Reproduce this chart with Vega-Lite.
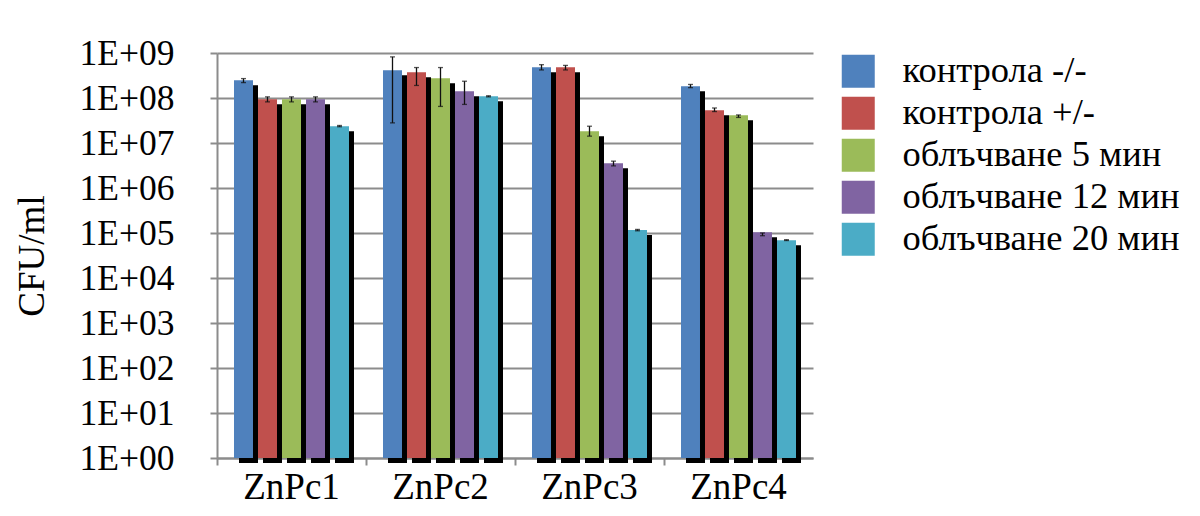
{
  "$schema": "https://vega.github.io/schema/vega-lite/v6.json",
  "autosize": {"type": "none"},
  "width": 596,
  "height": 405,
  "padding": {"left": 217, "top": 53, "right": 387, "bottom": 58},
  "background": "white",
  "config": {
    "view": {"stroke": null},
    "font": "Liberation Serif",
    "axis": {"labelFont": "Liberation Serif", "titleFont": "Liberation Serif", "labelColor": "black", "titleColor": "black", "titleFontWeight": "normal"}
  },
  "data": {
    "values": [
      {"g": "ZnPc1", "s": "контрола -/-", "v": 2.48e8, "lo": 2.2e8, "hi": 2.7e8},
      {"g": "ZnPc1", "s": "контрола +/-", "v": 9.4e7, "lo": 8.2e7, "hi": 1.06e8},
      {"g": "ZnPc1", "s": "облъчване 5 мин", "v": 9.4e7, "lo": 8.2e7, "hi": 1.06e8},
      {"g": "ZnPc1", "s": "облъчване 12 мин", "v": 9.4e7, "lo": 8.2e7, "hi": 1.06e8},
      {"g": "ZnPc1", "s": "облъчване 20 мин", "v": 2.36e7, "lo": 2.3e7, "hi": 2.45e7},
      {"g": "ZnPc2", "s": "контрола -/-", "v": 4.13e8, "lo": 2.8e7, "hi": 8.2e8},
      {"g": "ZnPc2", "s": "контрола +/-", "v": 3.73e8, "lo": 1.9e8, "hi": 4.75e8},
      {"g": "ZnPc2", "s": "облъчване 5 мин", "v": 2.75e8, "lo": 6.5e7, "hi": 4.75e8},
      {"g": "ZnPc2", "s": "облъчване 12 мин", "v": 1.41e8, "lo": 7.2e7, "hi": 2.36e8},
      {"g": "ZnPc2", "s": "облъчване 20 мин", "v": 1.09e8, "lo": 1.06e8, "hi": 1.12e8},
      {"g": "ZnPc3", "s": "контрола -/-", "v": 4.82e8, "lo": 4.2e8, "hi": 5.5e8},
      {"g": "ZnPc3", "s": "контрола +/-", "v": 4.82e8, "lo": 4.2e8, "hi": 5.3e8},
      {"g": "ZnPc3", "s": "облъчване 5 мин", "v": 1.83e7, "lo": 1.42e7, "hi": 2.36e7},
      {"g": "ZnPc3", "s": "облъчване 12 мин", "v": 3.56e6, "lo": 3.1e6, "hi": 3.95e6},
      {"g": "ZnPc3", "s": "облъчване 20 мин", "v": 1.16e5, "lo": 1.12e5, "hi": 1.2e5},
      {"g": "ZnPc4", "s": "контрола -/-", "v": 1.82e8, "lo": 1.7e8, "hi": 2.0e8},
      {"g": "ZnPc4", "s": "контрола +/-", "v": 5.34e7, "lo": 5.0e7, "hi": 6.0e7},
      {"g": "ZnPc4", "s": "облъчване 5 мин", "v": 4.14e7, "lo": 3.7e7, "hi": 4.2e7},
      {"g": "ZnPc4", "s": "облъчване 12 мин", "v": 1.04e5, "lo": 8.7e4, "hi": 1.0e5},
      {"g": "ZnPc4", "s": "облъчване 20 мин", "v": 6.94e4, "lo": 6.8e4, "hi": 7.1e4}
    ]
  },
  "encoding": {
    "x": {
      "field": "g", "type": "nominal",
      "scale": {"paddingInner": 0, "paddingOuter": 0},
      "axis": {
        "title": null, "labelAngle": 0, "labelFontSize": 37, "labelPadding": 4,
        "bandPosition": 0, "tickSize": 7, "tickColor": "#8c8c8c", "tickWidth": 2,
        "domainColor": "#8c8c8c", "domainWidth": 2, "grid": false
      }
    }
  },
  "resolve": {"scale": {"xOffset": "independent"}},
  "layer": [
    {
      "mark": {"type": "bar", "color": "black", "yOffset": 5, "y2Offset": 5},
      "encoding": {
        "xOffset": {
          "field": "s", "type": "nominal",
          "sort": ["контрола -/-", "контрола +/-", "облъчване 5 мин", "облъчване 12 мин", "облъчване 20 мин"],
          "scale": {"paddingInner": 0.20833, "paddingOuter": 0.7083, "align": 0.647}
        },
        "y": {
          "field": "v", "type": "quantitative",
          "scale": {"type": "log", "domain": [1, 1000000000], "nice": false},
          "axis": {
            "title": "CFU/ml", "titleFontSize": 37, "titlePadding": 28,
            "values": [1, 10, 100, 1000, 10000, 100000, 1000000, 10000000, 100000000, 1000000000],
            "labelExpr": "'1E+0' + round(log(datum.value)/LN10)",
            "labelFontSize": 35.5, "labelPadding": 36,
            "tickSize": 7, "tickColor": "#8c8c8c", "tickWidth": 2,
            "domainColor": "#8c8c8c", "domainWidth": 2,
            "grid": true, "gridColor": "#8c8c8c", "gridWidth": 2
          }
        },
        "y2": {"datum": 1}
      }
    },
    {
      "mark": {"type": "bar"},
      "encoding": {
        "xOffset": {
          "field": "s", "type": "nominal",
          "sort": ["контрола -/-", "контрола +/-", "облъчване 5 мин", "облъчване 12 мин", "облъчване 20 мин"],
          "scale": {"paddingInner": 0.20833, "paddingOuter": 0.7083}
        },
        "y": {"field": "v", "type": "quantitative"},
        "y2": {"datum": 1},
        "color": {
          "field": "s", "type": "nominal",
          "sort": ["контрола -/-", "контрола +/-", "облъчване 5 мин", "облъчване 12 мин", "облъчване 20 мин"],
          "scale": {"range": ["#4F81BD", "#C0504D", "#9BBB59", "#8064A2", "#4BACC6"]},
          "legend": {
            "title": null, "orient": "right", "offset": 27, "padding": 0,
            "labelFont": "Liberation Serif", "labelFontSize": 36.5, "labelColor": "black",
            "labelOffset": 26, "labelLimit": 400,
            "symbolType": "square", "symbolSize": 1089, "symbolStrokeWidth": 0,
            "rowPadding": 5
          }
        }
      }
    },
    {
      "mark": {"type": "rule", "color": "#111", "strokeWidth": 1.3},
      "encoding": {
        "xOffset": {
          "field": "s", "type": "nominal",
          "sort": ["контрола -/-", "контрола +/-", "облъчване 5 мин", "облъчване 12 мин", "облъчване 20 мин"],
          "scale": {"paddingInner": 0.20833, "paddingOuter": 0.7083}
        },
        "y": {"field": "lo", "type": "quantitative"},
        "y2": {"field": "hi"}
      }
    },
    {
      "mark": {"type": "tick", "color": "#111", "thickness": 1.3, "size": 5},
      "encoding": {
        "xOffset": {
          "field": "s", "type": "nominal",
          "sort": ["контрола -/-", "контрола +/-", "облъчване 5 мин", "облъчване 12 мин", "облъчване 20 мин"],
          "scale": {"paddingInner": 0.20833, "paddingOuter": 0.7083}
        },
        "y": {"field": "lo", "type": "quantitative"}
      }
    },
    {
      "mark": {"type": "tick", "color": "#111", "thickness": 1.3, "size": 5},
      "encoding": {
        "xOffset": {
          "field": "s", "type": "nominal",
          "sort": ["контрола -/-", "контрола +/-", "облъчване 5 мин", "облъчване 12 мин", "облъчване 20 мин"],
          "scale": {"paddingInner": 0.20833, "paddingOuter": 0.7083}
        },
        "y": {"field": "hi", "type": "quantitative"}
      }
    }
  ]
}
